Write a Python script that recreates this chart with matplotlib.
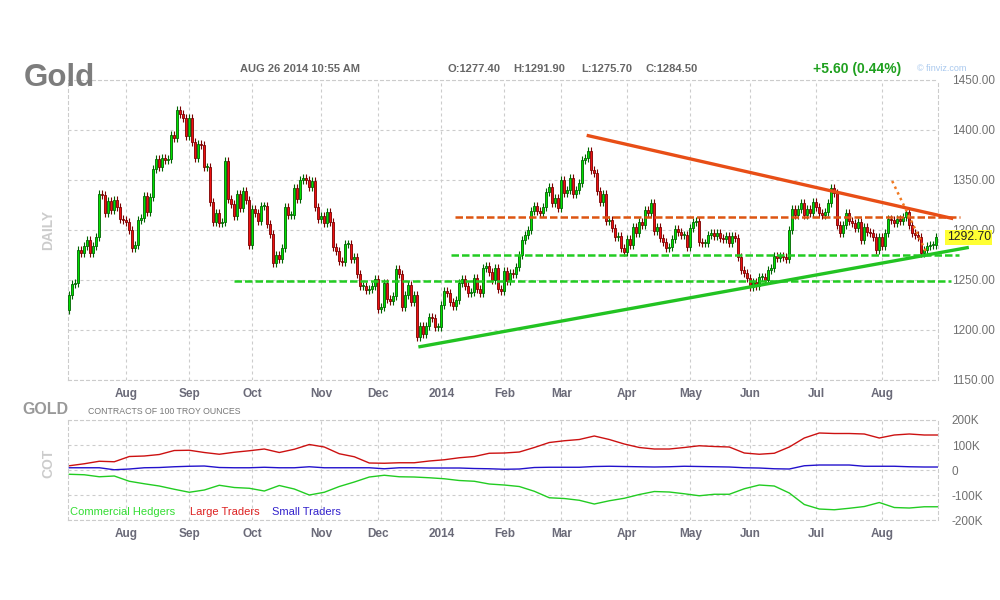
import numpy as np
import matplotlib
matplotlib.use("Agg")
import matplotlib.pyplot as plt

plt.rcParams["font.family"] = ["Liberation Sans", "DejaVu Sans"]

# daily closes, early Jul 2013 .. Aug 26 2014
closes = [
    1235, 1246, 1247, 1280, 1277, 1284, 1290, 1277, 1284, 1293,
    1336, 1335, 1317, 1329, 1320, 1330, 1323, 1311, 1310, 1308,
    1300, 1282, 1285, 1310, 1312, 1334, 1318, 1333, 1361, 1371,
    1363, 1372, 1370, 1371, 1395, 1392, 1420, 1416, 1412, 1394,
    1412, 1388, 1372, 1386, 1385, 1363, 1363, 1328, 1308, 1317,
    1307, 1308, 1369, 1331, 1326, 1314, 1336, 1322, 1339, 1330,
    1285, 1321, 1317, 1309, 1324, 1324, 1306, 1296, 1267, 1275,
    1271, 1282, 1323, 1315, 1315, 1342, 1331, 1350, 1352, 1350,
    1343, 1349, 1323, 1311, 1314, 1307, 1318, 1308, 1283, 1279,
    1269, 1268, 1286, 1286, 1271, 1273, 1256, 1244, 1244, 1240,
    1241, 1244, 1251, 1221, 1223, 1247, 1231, 1229, 1234, 1261,
    1256, 1223, 1235, 1245, 1228, 1235, 1193, 1204, 1196, 1204,
    1213, 1212, 1203, 1203, 1225, 1239, 1237, 1228, 1224, 1230,
    1247, 1251, 1244, 1237, 1238, 1252, 1241, 1237, 1262, 1264,
    1258, 1250, 1262, 1241, 1239, 1259, 1249, 1257, 1256, 1263,
    1275, 1290, 1295, 1300, 1319, 1324, 1319, 1317, 1323, 1338,
    1343, 1327, 1332, 1322, 1350, 1337, 1340, 1352, 1336, 1340,
    1347, 1370, 1372, 1379, 1360, 1357, 1339, 1328, 1336, 1309,
    1310, 1302, 1293, 1294, 1282, 1278, 1291, 1285, 1303, 1297,
    1308, 1305, 1320, 1317, 1327, 1299, 1303, 1292, 1288, 1282,
    1283, 1291, 1301, 1298, 1295, 1295, 1283, 1302, 1308, 1309,
    1288, 1287, 1287, 1295, 1297, 1294, 1297, 1292, 1291, 1294,
    1287, 1294, 1292, 1273, 1260, 1257, 1252, 1243, 1248, 1244,
    1253, 1253, 1250, 1260, 1262, 1274, 1272, 1274, 1273, 1271,
    1300, 1321, 1315, 1321, 1327, 1315, 1321, 1317, 1328, 1323,
    1317, 1315, 1318, 1327, 1342, 1337, 1305, 1297, 1305, 1317,
    1309, 1307, 1302, 1308, 1290, 1303, 1298, 1297, 1293, 1280,
    1293, 1284, 1297, 1311, 1310, 1307, 1311, 1309, 1313, 1318,
    1305, 1297, 1295, 1293, 1277, 1280, 1284, 1285, 1285, 1293,
]
first_open = 1220
last_price = 1292.70

month_labels = ["Aug", "Sep", "Oct", "Nov", "Dec", "2014", "Feb", "Mar",
                "Apr", "May", "Jun", "Jul", "Aug"]
month_pos = [19, 40, 61, 84, 103, 124, 145, 164, 186, 207, 227, 249, 271]
price_ticks = [1150, 1200, 1250, 1300, 1350, 1400, 1450]

# weekly COT net positions (thousands of contracts), one value per 5 sessions
cot_commercial = [-17, -19, -27, -24, -45, -55, -64, -77, -89, -80,
                  -61, -70, -73, -84, -62, -76, -100, -89, -66, -48,
                  -28, -21, -27, -28, -31, -35, -42, -45, -56, -60,
                  -66, -85, -111, -114, -121, -136, -123, -113, -98, -86,
                  -88, -95, -103, -97, -97, -75, -60, -64, -92, -138,
                  -156, -159, -153, -146, -130, -150, -152, -147, -147]
cot_large = [17, 25, 35, 33, 54, 56, 62, 78, 79, 70,
             63, 71, 77, 84, 70, 83, 102, 92, 65, 53,
             28, 27, 29, 29, 36, 41, 49, 54, 67, 68,
             72, 90, 110, 117, 122, 136, 122, 104, 90, 84,
             84, 90, 97, 94, 92, 68, 63, 67, 92, 128,
             148, 146, 146, 144, 128, 140, 144, 140, 140]
cot_small = [9, 9, 9, 1, 4, 9, 10, 13, 15, 16,
             10, 9, 9, 11, 9, 9, 13, 9, 9, 9,
             9, 5, 9, 9, 8, 8, 8, 6, 5, 3,
             4, 10, 11, 11, 11, 14, 15, 14, 13, 12,
             13, 15, 14, 13, 12, 9, 8, 5, 4, 17,
             20, 20, 20, 15, 15, 15, 13, 12, 12]
cot_ticks = [-200, -100, 0, 100, 200]

# drawn annotations, in (session index, price)
resist_line = [(173.0, 1394.3), (294.1, 1311.7)]
support_line = [(116.9, 1183.3), (299.3, 1282.3)]
resist_level = (128.6, 296.9, 1313)
support_levels = [(127.2, 296.6, 1275), (54.9, 293.9, 1249)]
short_line = [(274.3, 1349), (285.6, 1278)]

GRID = "#cccccc"
DASH = (0, (2.7, 2.7))
LBL = "#707070"
WICK = 4

fig = plt.figure(figsize=(10, 6), dpi=100)
ax = fig.add_axes([0.068, 0.3667, 0.870, 0.5])
ax2 = fig.add_axes([0.068, 0.1333, 0.870, 0.1667])

for a in (ax, ax2):
    a.set_xlim(-0.43, 289.57)
    a.set_axisbelow(True)
    a.grid(True, color=GRID, linestyle=DASH, linewidth=0.8)
    for s in a.spines.values():
        s.set_color(GRID); s.set_linestyle(DASH); s.set_linewidth(0.8)
    a.yaxis.tick_right()
    a.tick_params(length=0, labelsize=8.5, labelcolor=LBL)
    a.tick_params(axis="y", pad=10)
    a.tick_params(axis="x", pad=6)
    a.set_xticks(month_pos)
    a.set_xticklabels(month_labels, fontweight="bold", color="#6a6a78")

# candles
c = np.array(closes, float)
o = np.r_[first_open, c[:-1]]
x = np.arange(len(c))
up = c >= o
top = np.maximum(o, c)
bot = np.minimum(o, c)
h = np.maximum(top - bot, 1.2)
ax.vlines(x[up], bot[up] - WICK, top[up] + WICK, color="#006400", lw=0.8, zorder=2)
ax.vlines(x[~up], bot[~up] - WICK, top[~up] + WICK, color="#7a0000", lw=0.8, zorder=2)
ax.bar(x[up], h[up], bottom=bot[up], width=0.72, color="#00e000",
       edgecolor="#006400", linewidth=0.6, zorder=3)
ax.bar(x[~up], h[~up], bottom=bot[~up], width=0.72, color="#ee1111",
       edgecolor="#7a0000", linewidth=0.6, zorder=3)

ax.set_ylim(1150, 1450)
ax.set_yticks(price_ticks)
ax.set_yticklabels([f"{v:.2f}" for v in price_ticks])

# annotations
(x0, y0), (x1, y1) = resist_line
ax.plot([x0, x1], [y0, y1], color="#e84e16", lw=2.4, clip_on=False, zorder=5)
(x0, y0), (x1, y1) = support_line
ax.plot([x0, x1], [y0, y1], color="#22c322", lw=2.4, clip_on=False, zorder=5)
xa, xb, yv = resist_level
ax.plot([xa, xb], [yv, yv], color="#dd5511", lw=1.8, ls=(0, (3, 1.2)), clip_on=False, zorder=4)
for xa, xb, yv in support_levels:
    ax.plot([xa, xb], [yv, yv], color="#22cc22", lw=1.8, ls=(0, (3, 1.2)), clip_on=False, zorder=4)
(x0, y0), (x1, y1) = short_line
ax.plot([x0, x1], [y0, y1], color="#f07a22", lw=1.8, ls=(0, (1, 1.5)), clip_on=False, zorder=5)

ax.text(1.01, last_price, f"{last_price:.2f}", transform=ax.get_yaxis_transform(),
        fontsize=8.8, color="#222222", va="center", ha="left", zorder=6,
        bbox=dict(facecolor="#ffff33", edgecolor="none", pad=1.0))

# COT panel
wx = np.arange(len(cot_large)) * 5
ax2.plot(wx, cot_commercial, color="#22cc22", lw=1)
ax2.plot(wx, cot_large, color="#cc1111", lw=1)
ax2.plot(wx, cot_small, color="#2211cc", lw=1)
ax2.set_ylim(-200, 200)
ax2.set_yticks(cot_ticks)
ax2.set_yticklabels([f"{v}K" if v else "0" for v in cot_ticks])

# header texts
fig.text(0.024, 0.870, "Gold", fontsize=22.5, fontweight="bold", color="#7d7d7d", va="center")
fig.text(0.240, 0.885, "AUG 26 2014 10:55 AM", fontsize=8, fontweight="bold", color="#666666", va="center")
for xt, s in [(0.447, "O:1277.40"), (0.513, "H:1291.90"), (0.581, "L:1275.70"), (0.646, "C:1284.50")]:
    fig.text(xt, 0.885, s, fontsize=8, fontweight="bold", color="#666666", va="center")
fig.text(0.813, 0.885, "+5.60 (0.44%)", fontsize=10, fontweight="bold", color="#1fa01f", va="center")
fig.text(0.917, 0.886, "\u00a9 finviz.com", fontsize=6.5, color="#a8c8ee", va="center")
fig.text(0.048, 0.617, "DAILY", fontsize=10, fontweight="bold", color="#cccccc",
         rotation=90, ha="center", va="center")

fig.text(0.022, 0.317, "GOLD", fontsize=11.5, fontweight="bold", color="#999999", va="center")
fig.text(0.088, 0.314, "CONTRACTS OF 100 TROY OUNCES", fontsize=6.3, color="#777777", va="center")
fig.text(0.048, 0.228, "COT", fontsize=10, fontweight="bold", color="#cccccc",
         rotation=90, ha="center", va="center")
for xt, s, col in [(0.070, "Commercial Hedgers", "#33dd33"),
                   (0.190, "Large Traders", "#dd2222"),
                   (0.272, "Small Traders", "#3322cc")]:
    fig.text(xt, 0.147, s, fontsize=8, color=col, va="center")

fig.savefig("out.png", dpi=100)
